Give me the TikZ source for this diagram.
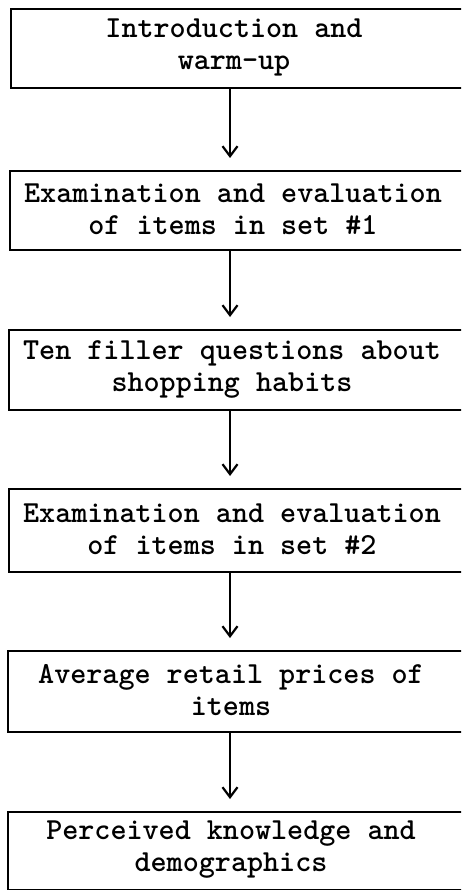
\documentclass[tikz,border=0pt]{standalone}
\usetikzlibrary{arrows.meta}
\begin{document}
\begin{tikzpicture}[x=1pt,y=-1pt,
  stage/.style={draw, line width=2.4pt, rectangle, inner sep=0pt, anchor=north west},
  caption/.style={font=\fontsize{30.6}{32}\selectfont\ttfamily\bfseries, align=center, inner sep=0pt},
  flow/.style={line width=1.7pt, -{Straight Barb[length=10pt,width=15pt,line width=2.2pt]}, shorten >=12pt}]
\useasboundingbox (0,0) rectangle (461,890);
\clip (0,0) rectangle (461,890);
\coordinate (ax) at (230,0);

% stage boxes (they run past the right border)
\node[stage, minimum width=470pt, minimum height=79pt] (b1) at (10,8) {};
\node[stage, minimum width=470pt, minimum height=79pt] (b2) at (9,170) {};
\node[stage, minimum width=470pt, minimum height=80pt] (b3) at (8,329) {};
\node[stage, minimum width=470pt, minimum height=83pt] (b4) at (8,488) {};
\node[stage, minimum width=470pt, minimum height=81pt] (b5) at (7,650) {};
\node[stage, minimum width=470pt, minimum height=78pt] (b6) at (7,811) {};

% captions
\node[caption] (t1) at (234,47.5) {Introduction and\\warm-up};
\node[caption] (t2) at (233,209.5) {Examination and evaluation\\of items in set \#1};
\node[caption] (t3) at (232,369) {Ten filler questions about\\shopping habits};
\node[caption] (t4) at (232,529.5) {Examination and evaluation\\of items in set \#2};
\node[caption] (t5) at (231,690.5) {Average retail prices of\\items};
\node[caption] (t6) at (231,850) {Perceived knowledge and\\demographics};

% flow arrows
\draw[flow] (b1.south -| ax) -- (b2.north -| ax);
\draw[flow] (b2.south -| ax) -- (b3.north -| ax);
\draw[flow] (b3.south -| ax) -- (b4.north -| ax);
\draw[flow] (b4.south -| ax) -- (b5.north -| ax);
\draw[flow] (b5.south -| ax) -- (b6.north -| ax);
\end{tikzpicture}
\end{document}
